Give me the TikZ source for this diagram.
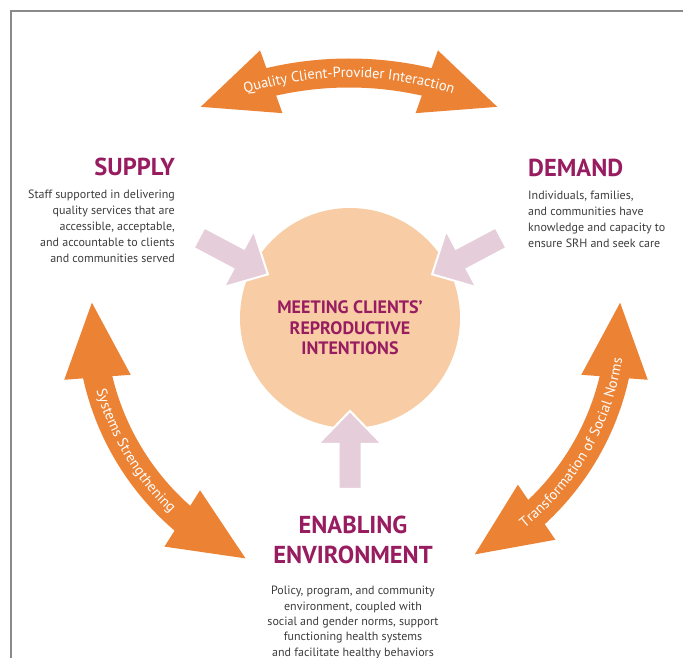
\documentclass[tikz,border=0pt]{standalone}
\usepackage{fontspec}
\setmainfont{PT Sans}
\usetikzlibrary{arrows.meta,bending,positioning,calc,decorations.text}
\definecolor{loopOrange}{RGB}{236,130,52}
\definecolor{titleMagenta}{RGB}{152,28,96}
\definecolor{goalPeach}{RGB}{248,205,166}
\definecolor{inPink}{RGB}{229,205,218}
\definecolor{bodyGray}{RGB}{60,60,60}
\definecolor{frameGray}{RGB}{138,138,138}

\newcommand\arcfont{\fontsize{14.5}{14.5}\selectfont\color{white}}
\tikzset{
  loop arrow/.style={draw=loopOrange, line width=29pt, >={Triangle[length=78pt, width=60pt]}, <->},
  arc label/.style={decorate, decoration={text along path, text align=center, raise=-4.5pt, text={|\arcfont|#1}}},
  in arrow/.style={fill=inPink, draw=white, line width=2pt},
  title/.style={text=titleMagenta, font=\fontsize{24.5}{30}\selectfont\bfseries, inner sep=0pt},
  body/.style={text=bodyGray, font=\fontsize{12}{16}\selectfont, inner sep=0pt},
}

\begin{document}
\begin{tikzpicture}[x=1pt, y=1pt]
    \useasboundingbox (0,0) rectangle (683,658);
    % frame
    \draw[frameGray, line width=1.5pt] (11,0) -- (11,647) -- (683,647);
    % centres of the three loops
    \coordinate (hub) at (356,340);
    \coordinate (topc) at (349,240);
    \coordinate (qc) at ($(topc)+(116:345)$);
    \coordinate (ss) at ($(hub)+(176:265)$);
    \coordinate (tn) at ($(hub)+(-64:265)$);
    % orange double arrows
    \draw[loop arrow] (qc) arc[start angle=116, end angle=64, radius=345];
    \draw[loop arrow] (ss) arc[start angle=176, end angle=246, radius=265];
    \draw[loop arrow] (tn) arc[start angle=-64, end angle=4, radius=265];
    % labels along them
    \path[arc label={Quality Client-Provider Interaction}] (qc) arc[start angle=116, end angle=64, radius=345];
    \path[arc label={Systems Strengthening}] (ss) arc[start angle=176, end angle=246, radius=265];
    \path[arc label={Transformation of Social Norms}] (tn) arc[start angle=-64, end angle=4, radius=265];
    % the goal in the middle
    \node[circle, fill=goalPeach, minimum size=220pt, inner sep=0pt] (goal) at (350,340) {};
    \node[text=titleMagenta, font=\fontsize{18}{20.5}\selectfont\bfseries, align=center] (goallabel)
      at ([yshift=-10pt]goal.center) {MEETING CLIENTS’\\REPRODUCTIVE\\INTENTIONS};
    % pink arrows pointing in
    \foreach \ang in {152, 28, 270} {
      \draw[in arrow, shift={(goal.center)}, rotate=\ang]
        (93,0) -- (126,32) -- (126,11.5) -- (171,11.5) -- (171,-11.5) -- (126,-11.5) -- (126,-32) -- cycle;
    }
    % supply
    \node[title, anchor=base east] (supply) at (175,482) {SUPPLY};
    \node[body, align=right, below=13pt of supply.south east, anchor=north east] (supplytext)
      {Staff supported in delivering\\quality services that are\\accessible, acceptable,\\and accountable to clients\\and communities served};
    % demand
    \node[title, anchor=base west] (demand) at (528,481) {DEMAND};
    \node[body, align=left, below=13pt of demand.south west, anchor=north west] (demandtext)
      {Individuals, families,\\and communities have\\knowledge and capacity to\\ensure SRH and seek care};
    % enabling environment
    \node[title, align=center, anchor=south] (enabling) at (353,94) {ENABLING\\ENVIRONMENT};
    \node[body, font=\fontsize{12}{15.4}\selectfont, align=center, below=22pt of enabling] (enablingtext)
      {Policy, program, and community\\environment, coupled with\\social and gender norms, support\\functioning health systems\\and facilitate healthy behaviors};
\end{tikzpicture}
\end{document}
